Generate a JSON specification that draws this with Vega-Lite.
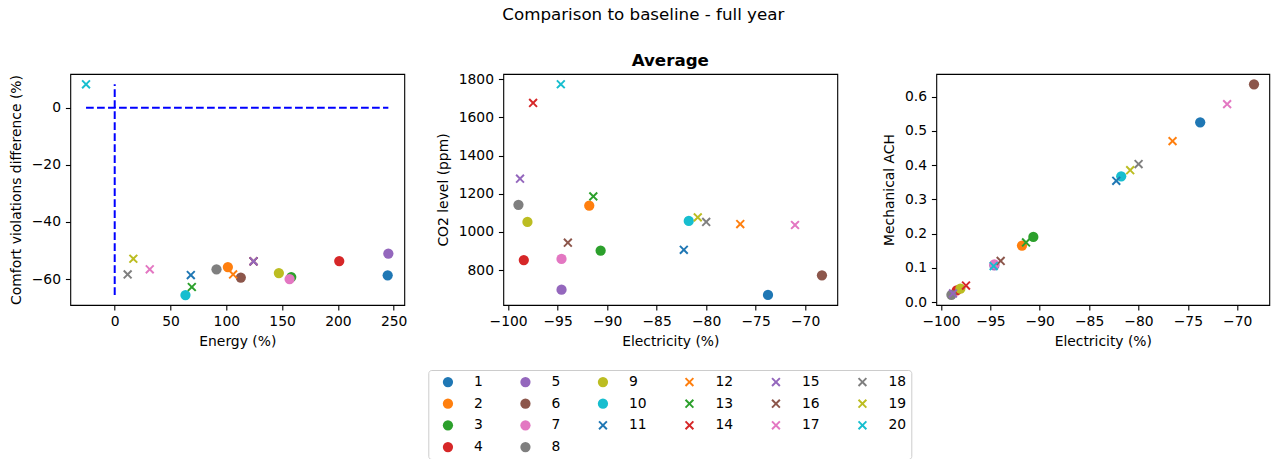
{
  "$schema": "https://vega.github.io/schema/vega-lite/v6.json",
  "padding": {"left": 8.3, "top": 6, "right": 5, "bottom": 0},
  "background": "white",
  "title": {"text": "Comparison to baseline - full year", "anchor": "start", "frame": "group", "align": "center", "dx": 573, "offset": 28.5, "fontSize": 16.7, "fontWeight": "normal", "font": "DejaVu Sans", "color": "black"},
  "config": {
    "view": {"stroke": "black", "strokeWidth": 1.1},
    "axis": {"domain": false, "grid": false, "tickColor": "black", "tickSize": 4.9, "tickWidth": 1.1, "labelFont": "DejaVu Sans", "labelFontSize": 13.9, "labelColor": "black", "labelPadding": 4.9, "titleFont": "DejaVu Sans", "titleFontSize": 13.9, "titleFontWeight": "normal", "titleColor": "black", "labelFlush": false, "labelOverlap": false},
    "axisX": {"titlePadding": 6},
    "axisY": {"titlePadding": 8},
    "legend": {"symbolStrokeWidth": 0}
  },
  "datasets": {
    "pts": [
      {"label": "1", "energy": 244.6, "comfort": -58.7, "elec": -73.75, "co2": 669, "ach": 0.525},
      {"label": "2", "energy": 101.4, "comfort": -55.8, "elec": -91.8, "co2": 1137, "ach": 0.165},
      {"label": "3", "energy": 158.2, "comfort": -59.3, "elec": -90.65, "co2": 901, "ach": 0.19},
      {"label": "4", "energy": 201.2, "comfort": -53.7, "elec": -98.41, "co2": 852, "ach": 0.034},
      {"label": "5", "energy": 245.2, "comfort": -51.1, "elec": -94.6, "co2": 697, "ach": 0.107},
      {"label": "6", "energy": 113.0, "comfort": -59.5, "elec": -68.3, "co2": 772, "ach": 0.636},
      {"label": "7", "energy": 156.7, "comfort": -60.0, "elec": -94.6, "co2": 858, "ach": 0.11},
      {"label": "8", "energy": 91.2, "comfort": -56.6, "elec": -98.95, "co2": 1142, "ach": 0.021},
      {"label": "9", "energy": 147.1, "comfort": -57.9, "elec": -98.04, "co2": 1052, "ach": 0.039},
      {"label": "10", "energy": 63.4, "comfort": -65.6, "elec": -81.75, "co2": 1057, "ach": 0.367},
      {"label": "11", "energy": 68.2, "comfort": -58.6, "elec": -82.25, "co2": 906, "ach": 0.354},
      {"label": "12", "energy": 106.1, "comfort": -58.4, "elec": -76.55, "co2": 1041, "ach": 0.47},
      {"label": "13", "energy": 69.1, "comfort": -62.8, "elec": -91.39, "co2": 1186, "ach": 0.174},
      {"label": "14", "energy": 124.4, "comfort": -53.8, "elec": -97.47, "co2": 1676, "ach": 0.048},
      {"label": "16", "energy": 124.4, "comfort": -53.8, "elec": -93.96, "co2": 943, "ach": 0.12},
      {"label": "15", "energy": 124.4, "comfort": -53.8, "elec": -98.79, "co2": 1279, "ach": 0.025},
      {"label": "17", "energy": 31.4, "comfort": -56.6, "elec": -71.02, "co2": 1036, "ach": 0.578},
      {"label": "18", "energy": 11.6, "comfort": -58.4, "elec": -79.99, "co2": 1052, "ach": 0.403},
      {"label": "19", "energy": 16.7, "comfort": -52.9, "elec": -80.84, "co2": 1076, "ach": 0.385},
      {"label": "20", "energy": -25.7, "comfort": 8.2, "elec": -94.67, "co2": 1774, "ach": 0.105}
    ],
    "vline": [{"energy": 0, "comfort": -65.6, "comfort2": 8.2}],
    "hline": [{"comfort": 0, "energy": -25.7, "energy2": 245.2}]
  },
  "hconcat": [
    {
      "width": 334, "height": 231,
      "layer": [
        {
          "data": {"name": "vline"},
          "mark": {"type": "rule", "color": "#0000ff", "strokeWidth": 2, "strokeDash": [7.7, 3.3]},
          "encoding": {
            "x": {"field": "energy", "type": "quantitative", "scale": {"domain": [-39.8, 259.5], "nice": false, "zero": false}, "axis": {"title": "Energy (%)", "values": [0, 50, 100, 150, 200, 250]}},
            "y": {"field": "comfort", "type": "quantitative", "scale": {"domain": [-69.1, 11.8], "nice": false, "zero": false}, "axis": {"title": "Comfort violations difference (%)", "values": [0, -20, -40, -60]}},
            "y2": {"field": "comfort2"}
          }
        },
        {
          "data": {"name": "hline"},
          "mark": {"type": "rule", "color": "#0000ff", "strokeWidth": 2, "strokeDash": [7.7, 3.3]},
          "encoding": {
            "x": {"field": "energy", "type": "quantitative", "scale": {"domain": [-39.8, 259.5], "nice": false, "zero": false}, "axis": {"title": "Energy (%)", "values": [0, 50, 100, 150, 200, 250]}},
            "x2": {"field": "energy2"},
            "y": {"field": "comfort", "type": "quantitative", "scale": {"domain": [-69.1, 11.8], "nice": false, "zero": false}, "axis": {"title": "Comfort violations difference (%)", "values": [0, -20, -40, -60]}}
          }
        },
        {
          "data": {"name": "pts"},
          "mark": {"type": "point", "filled": true, "size": 105, "opacity": 1},
          "encoding": {
            "x": {"field": "energy", "type": "quantitative", "scale": {"domain": [-39.8, 259.5], "nice": false, "zero": false}, "axis": {"title": "Energy (%)", "values": [0, 50, 100, 150, 200, 250]}},
            "y": {"field": "comfort", "type": "quantitative", "scale": {"domain": [-69.1, 11.8], "nice": false, "zero": false}, "axis": {"title": "Comfort violations difference (%)", "values": [0, -20, -40, -60]}},
            "color": {"field": "label", "type": "nominal",
              "scale": {"domain": ["1","5","9","12","15","18","2","6","10","13","16","19","3","7","11","14","17","20","4","8"],
                        "range": ["#1f77b4","#9467bd","#bcbd22","#ff7f0e","#9467bd","#7f7f7f","#ff7f0e","#8c564b","#17becf","#2ca02c","#8c564b","#bcbd22","#2ca02c","#e377c2","#1f77b4","#d62728","#e377c2","#17becf","#d62728","#7f7f7f"]},
              "legend": {"title": null, "orient": "none", "direction": "horizontal", "legendX": 358, "legendY": 296, "columns": 6, "symbolSize": 105, "labelFont": "DejaVu Sans", "labelFontSize": 13.9, "labelColor": "black", "labelOffset": 19, "symbolOffset": 7.7, "columnPadding": 27.5, "rowPadding": 6.7, "padding": 5, "strokeColor": "#cccccc", "fillColor": "white", "cornerRadius": 3, "gridAlign": "each"}},
            "shape": {"field": "label", "type": "nominal",
              "scale": {"domain": ["1","5","9","12","15","18","2","6","10","13","16","19","3","7","11","14","17","20","4","8"],
                        "range": ["circle","circle","circle","M0,-0.27L0.63,-0.9L0.9,-0.63L0.27,0L0.9,0.63L0.63,0.9L0,0.27L-0.63,0.9L-0.9,0.63L-0.27,0L-0.9,-0.63L-0.63,-0.9Z","M0,-0.27L0.63,-0.9L0.9,-0.63L0.27,0L0.9,0.63L0.63,0.9L0,0.27L-0.63,0.9L-0.9,0.63L-0.27,0L-0.9,-0.63L-0.63,-0.9Z","M0,-0.27L0.63,-0.9L0.9,-0.63L0.27,0L0.9,0.63L0.63,0.9L0,0.27L-0.63,0.9L-0.9,0.63L-0.27,0L-0.9,-0.63L-0.63,-0.9Z","circle","circle","circle","M0,-0.27L0.63,-0.9L0.9,-0.63L0.27,0L0.9,0.63L0.63,0.9L0,0.27L-0.63,0.9L-0.9,0.63L-0.27,0L-0.9,-0.63L-0.63,-0.9Z","M0,-0.27L0.63,-0.9L0.9,-0.63L0.27,0L0.9,0.63L0.63,0.9L0,0.27L-0.63,0.9L-0.9,0.63L-0.27,0L-0.9,-0.63L-0.63,-0.9Z","M0,-0.27L0.63,-0.9L0.9,-0.63L0.27,0L0.9,0.63L0.63,0.9L0,0.27L-0.63,0.9L-0.9,0.63L-0.27,0L-0.9,-0.63L-0.63,-0.9Z","circle","circle","M0,-0.27L0.63,-0.9L0.9,-0.63L0.27,0L0.9,0.63L0.63,0.9L0,0.27L-0.63,0.9L-0.9,0.63L-0.27,0L-0.9,-0.63L-0.63,-0.9Z","M0,-0.27L0.63,-0.9L0.9,-0.63L0.27,0L0.9,0.63L0.63,0.9L0,0.27L-0.63,0.9L-0.9,0.63L-0.27,0L-0.9,-0.63L-0.63,-0.9Z","M0,-0.27L0.63,-0.9L0.9,-0.63L0.27,0L0.9,0.63L0.63,0.9L0,0.27L-0.63,0.9L-0.9,0.63L-0.27,0L-0.9,-0.63L-0.63,-0.9Z","M0,-0.27L0.63,-0.9L0.9,-0.63L0.27,0L0.9,0.63L0.63,0.9L0,0.27L-0.63,0.9L-0.9,0.63L-0.27,0L-0.9,-0.63L-0.63,-0.9Z","circle","circle"]},
              "legend": {"title": null, "orient": "none", "direction": "horizontal", "legendX": 358, "legendY": 296, "columns": 6, "symbolSize": 105, "labelFont": "DejaVu Sans", "labelFontSize": 13.9, "labelColor": "black", "labelOffset": 19, "symbolOffset": 7.7, "columnPadding": 27.5, "rowPadding": 6.7, "padding": 5, "strokeColor": "#cccccc", "fillColor": "white", "cornerRadius": 3, "gridAlign": "each"}}
          }
        }
      ]
    },
    {
      "width": 334, "height": 231,
      "title": {"text": "Average", "fontSize": 16.7, "fontWeight": "bold", "font": "DejaVu Sans", "color": "black", "baseline": "bottom", "offset": -14},
      "data": {"name": "pts"},
      "mark": {"type": "point", "filled": true, "size": 105, "opacity": 1},
      "encoding": {
        "x": {"field": "elec", "type": "quantitative", "scale": {"domain": [-100.48, -66.75], "nice": false, "zero": false}, "axis": {"title": "Electricity (%)", "values": [-100, -95, -90, -85, -80, -75, -70]}},
        "y": {"field": "co2", "type": "quantitative", "scale": {"domain": [616.5, 1827.8], "nice": false, "zero": false}, "axis": {"title": "CO2 level (ppm)", "values": [800, 1000, 1200, 1400, 1600, 1800], "format": "d"}},
        "color": {"field": "label", "type": "nominal"},
        "shape": {"field": "label", "type": "nominal"}
      }
    },
    {
      "width": 333, "height": 231,
      "data": {"name": "pts"},
      "mark": {"type": "point", "filled": true, "size": 105, "opacity": 1},
      "encoding": {
        "x": {"field": "elec", "type": "quantitative", "scale": {"domain": [-100.48, -66.75], "nice": false, "zero": false}, "axis": {"title": "Electricity (%)", "values": [-100, -95, -90, -85, -80, -75, -70]}},
        "y": {"field": "ach", "type": "quantitative", "scale": {"domain": [-0.0087, 0.666], "nice": false, "zero": false}, "axis": {"title": "Mechanical ACH", "values": [0, 0.1, 0.2, 0.3, 0.4, 0.5, 0.6], "format": ".1f"}},
        "color": {"field": "label", "type": "nominal"},
        "shape": {"field": "label", "type": "nominal"}
      }
    }
  ],
  "spacing": 99,
  "bounds": "flush"
}
